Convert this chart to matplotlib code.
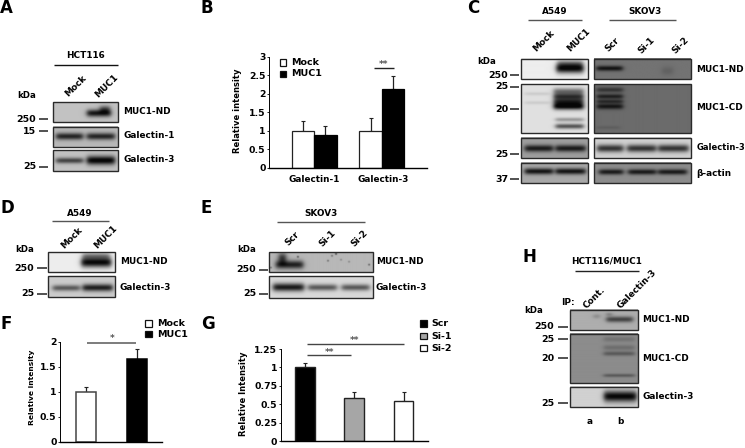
import numpy as np
import matplotlib
matplotlib.use('Agg')
import matplotlib.pyplot as plt
from matplotlib.patches import Rectangle

W, H = 745, 448
plt.rcParams['font.family'] = 'DejaVu Sans'
plt.rcParams['font.weight'] = 'bold'

# bar chart values
b_groups = ['Galectin-1', 'Galectin-3']
b_mock = [1.0, 1.0]
b_muc1 = [0.88, 2.13]
b_mock_err = [0.25, 0.33]
b_muc1_err = [0.25, 0.34]

f_values = [1.0, 1.65]
f_err = [0.10, 0.20]

g_values = [1.0, 0.58, 0.55]
g_err = [0.06, 0.09, 0.12]

b_ticks = [0, 0.5, 1, 1.5, 2, 2.5, 3]
b_ticklabels = ['0', '0.5', '1', '1.5', '2', '2.5', '3']
f_ticks = [0, 0.5, 1, 1.5, 2]
f_ticklabels = ['0', '0.5', '1', '1.5', '2']
g_ticks = [0, 0.25, 0.5, 0.75, 1, 1.25]
g_ticklabels = ['0', '0.25', '0.5', '0.75', '1', '1.25']

fig = plt.figure(figsize=(W / 100, H / 100), dpi=100)
over = fig.add_axes([0, 0, 1, 1], zorder=5)
over.set_xlim(0, W)
over.set_ylim(H, 0)
over.axis('off')
over.patch.set_alpha(0)
over.set_autoscale_on(False)


def txt(x, y, s, size=6.4, ha='left', rot=0, color='#000000', **kw):
    over.text(x, y, s, fontsize=size, ha=ha, va='center', rotation=rot,
              rotation_mode='anchor' if rot == 0 else 'default', color=color, **kw)


def line(x0, x1, y, color='#222222', lw=1.0):
    over.plot([x0, x1], [y, y], color=color, lw=lw, solid_capstyle='butt')


def blot(x0, y0, x1, y1, bg, bands=(), specks=()):
    # one gel panel, bands are (x0, x1, y centre, y sigma, darkness) in pixels
    nx, ny = int((x1 - x0) * 3), int((y1 - y0) * 3)
    xs = np.linspace(x0, x1, nx)
    ys = np.linspace(y0, y1, ny)
    xx, yy = np.meshgrid(xs, ys)
    img = np.full(xx.shape, bg, dtype=float)
    for bx0, bx1, yc, sig, dark in bands:
        fx = 1 / (1 + np.exp((bx0 - xx) / 1.4)) * 1 / (1 + np.exp((xx - bx1) / 1.4))
        fy = np.exp(-0.5 * ((yy - yc) / (sig * 1.2)) ** 2)
        img -= dark * fx * fy
    for sx, sy, dark in specks:
        img -= dark * np.exp(-0.5 * ((xx - sx) ** 2 + (yy - sy) ** 2) / 0.7 ** 2)
    over.imshow(np.clip(img, 0.03, 1), extent=[x0, x1, y1, y0], cmap='gray', vmin=0, vmax=1,
                aspect='auto', interpolation='bilinear', zorder=1)
    over.add_patch(Rectangle((x0, y0), x1 - x0, y1 - y0, fill=False, ec='#2a2a2a', lw=1.0, zorder=2))


def marker(label, y, x_right, t0, t1):
    txt(x_right, y, label, size=6.8, ha='right')
    line(t0, t1, y, lw=1.1)


def bars(x0, x1, ybot, ytop, ymax, xlim, ticks, ticklabels, size=6.7):
    ax = fig.add_axes([x0 / W, 1 - ybot / H, (x1 - x0) / W, (ybot - ytop) / H], zorder=3)
    ax.set_xlim(*xlim)
    ax.set_ylim(0, ymax)
    ax.spines['top'].set_visible(False)
    ax.spines['right'].set_visible(False)
    ax.spines['left'].set_linewidth(0.7)
    ax.spines['bottom'].set_linewidth(1.0)
    ax.set_yticks(ticks)
    ax.set_yticklabels(ticklabels, fontsize=size, color='#000000')
    ax.tick_params(axis='y', length=1.5, width=0.6, pad=1)
    ax.set_xticks([])
    ax.patch.set_alpha(0)
    return ax


def ebar(ax, x, y, err):
    ax.errorbar(x, y, yerr=[[0], [err]], color='#222222', elinewidth=0.9, capsize=1.2,
                capthick=0.8, zorder=1)


def legend(x, ys, names, colors, tx):
    for y, name, c in zip(ys, names, colors):
        over.add_patch(Rectangle((x - 3.2, y - 3.2), 6.4, 6.4, fc=c, ec='#111111', lw=0.9))
        txt(tx, y, name, size=6.8)


# panel letters
for letter, x, y in [('A', 0, 8), ('B', 201, 8), ('C', 467, 8), ('D', 0, 208),
                     ('E', 201, 208), ('F', 0, 324), ('G', 201, 324), ('H', 522, 257)]:
    txt(x, y, letter, size=12, color='black')

# A
txt(85.7, 55, 'HCT116', ha='center')
line(54, 117.7, 65.3, color='#111111')
txt(76, 86, 'Mock', ha='center', rot=45)
txt(107, 86, 'MUC1', ha='center', rot=45)
txt(27, 96, 'kDa', ha='center', size=6.2)
blot(53, 102.3, 118, 122.3, 0.76, [(87, 111, 113.5, 2.2, 0.68), (100, 110, 109, 2.0, 0.4)])
blot(53, 126.7, 118, 147, 0.72, [(56, 83, 136.7, 2.0, 0.58), (87, 115, 136.7, 2.0, 0.58)])
blot(53, 150.3, 118, 171, 0.76, [(56, 83, 160.7, 1.7, 0.5), (87, 115, 160.5, 2.6, 0.76)])
marker('250', 119, 36, 39, 48)
marker('15', 131, 36, 39, 48)
marker('25', 166.7, 36, 39, 48)
for label, y in [('MUC1-ND', 111.7), ('Galectin-1', 136), ('Galectin-3', 160)]:
    txt(123.3, y, label)

# C
txt(555, 11.7, 'A549', ha='center')
line(528.3, 581.7, 20, color='#555555')
txt(645, 11.7, 'SKOV3', ha='center')
line(609.3, 676, 20, color='#555555')
for label, x, y in [('Mock', 544, 41), ('MUC1', 579, 40), ('Scr', 612.7, 45),
                    ('Si-1', 646.7, 45), ('Si-2', 680.7, 45)]:
    txt(x, y, label, ha='center', rot=45)
txt(486.7, 61.7, 'kDa', ha='center', size=6.2)
blot(521.3, 59, 588.3, 79.3, 0.93, [(556.7, 584, 69, 2.8, 0.9), (558, 583, 64, 2, 0.3)])
blot(594.3, 59, 690.7, 79.3, 0.45, [(596.7, 622.7, 69, 1.5, 0.38), (662, 673, 71.5, 2.5, 0.07)])
blot(521.3, 84.3, 588.3, 133.3, 0.88,
     [(554, 584, 91.7, 2, 0.45), (554, 584, 96.7, 1.8, 0.6), (554, 584, 101.7, 2, 0.65),
      (554, 584, 106.7, 2, 0.85), (556, 584, 120, 1.2, 0.28), (556, 584, 126.7, 1.5, 0.55),
      (525, 550, 94, 1, 0.08), (525, 550, 103, 1, 0.08)])
blot(594.3, 84.3, 690.7, 133.3, 0.42,
     [(597, 623, 90, 1.5, 0.22), (597, 623, 96.7, 1.5, 0.3), (597, 623, 101.7, 1.2, 0.25),
      (597, 623, 106.7, 1.7, 0.34), (597, 620, 128, 1.0, 0.05)])
blot(521.3, 138, 588.3, 158.3, 0.62, [(525, 553.3, 149, 2, 0.52), (556, 586, 149, 2, 0.52)])
blot(594.3, 138, 690.7, 158.3, 0.82,
     [(597.3, 623.3, 149, 2.2, 0.62), (627.3, 656, 149, 2.2, 0.62), (658.3, 688.3, 149, 2.2, 0.62)])
blot(521.3, 162.7, 588.3, 183, 0.66, [(525, 553.3, 171.7, 1.8, 0.58), (556, 586, 171.7, 1.8, 0.58)])
blot(594.3, 162.7, 690.7, 183, 0.55,
     [(599.3, 623.3, 172.3, 1.6, 0.45), (628.3, 656, 172.3, 1.6, 0.45), (658.3, 686.7, 172.3, 1.6, 0.45)])
marker('250', 75.3, 508, 510, 519)
marker('25', 86.7, 508, 510, 519)
marker('20', 109, 508, 510, 519)
marker('25', 154.3, 508, 510, 519)
marker('37', 179, 508, 510, 519)
for label, y in [('MUC1-ND', 69), ('MUC1-CD', 107), ('β-actin', 173)]:
    txt(696.3, y, label)
txt(696.3, 148, 'Galectin-3', size=6.0)

# D
txt(80, 213.3, 'A549', ha='center')
line(51.7, 109, 221, color='#555555')
txt(71.7, 238.3, 'Mock', ha='center', rot=45)
txt(106, 236.7, 'MUC1', ha='center', rot=45)
txt(25, 249, 'kDa', ha='center', size=6.2)
blot(48.3, 252.3, 115.3, 272.3, 0.93, [(81.7, 111.7, 262.7, 3, 0.9), (83, 110, 256, 2, 0.35)])
blot(48.3, 276.3, 115.3, 297.3, 0.8, [(53, 80, 288.3, 1.8, 0.45), (83, 113, 288, 2.2, 0.68)])
marker('250', 268.3, 34.3, 37.3, 46.7)
marker('25', 294, 34.3, 37.3, 46.7)
txt(120, 262, 'MUC1-ND')
txt(120, 287.3, 'Galectin-3')

# E
txt(320.7, 213.3, 'SKOV3', ha='center')
line(276.7, 365.3, 221.7, color='#555555')
txt(292.3, 239, 'Scr', ha='center', rot=45)
txt(327.3, 238, 'Si-1', ha='center', rot=45)
txt(360, 238, 'Si-2', ha='center', rot=45)
txt(246.7, 249, 'kDa', ha='center', size=6.2)
blot(269.3, 252.3, 372.7, 272.3, 0.72, [(276, 303.3, 265, 2.5, 0.6), (279, 286, 258, 3, 0.55)],
     [(336, 254, 0.5), (332, 256, 0.3), (328, 261, 0.3), (298, 257, 0.4), (369, 265, 0.35),
      (271, 268, 0.3), (341, 260, 0.2), (349, 262, 0.2)])
blot(269.3, 276.3, 372.7, 297.8, 0.85,
     [(273.3, 304, 287.3, 2.4, 0.75), (308.3, 336.7, 287.5, 1.9, 0.5), (341.7, 369.3, 287.5, 1.9, 0.5)])
marker('250', 270, 256, 259, 268.3)
marker('25', 294, 256, 259, 268.3)
txt(376, 262, 'MUC1-ND')
txt(376, 287, 'Galectin-3')

# H
txt(606.7, 260.7, 'HCT116/MUC1', ha='center')
line(575, 639, 270.7, color='#222222')
txt(567.7, 302.3, 'IP:', ha='center')
txt(594, 297.3, 'Cont.', ha='center', rot=45)
txt(637.3, 289, 'Galectin-3', ha='center', rot=45)
txt(534, 310.7, 'kDa', ha='center', size=6.2)
blot(570.3, 310, 638.3, 330.3, 0.68,
     [(606.7, 633.3, 320, 1.7, 0.42), (594, 600, 317, 1.3, 0.15), (607, 612, 315, 1, 0.2)])
blot(570.3, 334, 638.3, 383.3, 0.55,
     [(604, 635, 340, 1.6, 0.1), (604, 635, 348.3, 1.6, 0.12), (604, 635, 354.3, 1.3, 0.2),
      (604, 635, 376, 1, 0.2)])
blot(570.3, 387, 638.3, 407.3, 0.82, [(604.3, 637, 397, 3.2, 0.8)])
for label, y in [('250', 326.7), ('25', 339), ('20', 358.3), ('25', 403.3)]:
    marker(label, y, 554.3, 558.3, 567.7)
for label, y in [('MUC1-ND', 319.7), ('MUC1-CD', 358.7), ('Galectin-3', 396.3)]:
    txt(642.3, y, label)
txt(590, 421, 'a', ha='center')
txt(620.7, 421, 'b', ha='center')

# B
ax_b = bars(269, 427, 167.7, 56.7, 3, (-0.667, 1.664), b_ticks, b_ticklabels)
x_b = np.arange(len(b_groups))
ax_b.bar(x_b - 0.166, b_mock, 0.332, color='white', edgecolor='#222222', lw=0.9, zorder=2)
ax_b.bar(x_b + 0.166, b_muc1, 0.332, color='black', edgecolor='black', lw=0.9, zorder=2)
for i in x_b:
    ebar(ax_b, i - 0.166, b_mock[i], b_mock_err[i])
    ebar(ax_b, i + 0.166, b_muc1[i], b_muc1_err[i])
txt(237.7, 111, 'Relative intensity', size=6.0, ha='center', rot=90)
txt(314, 180, b_groups[0], ha='center', size=6.4)
txt(383.3, 180, b_groups[1], ha='center', size=6.4)
legend(282.7, [62.7, 74], ['Mock', 'MUC1'], ['white', 'black'], 291)
line(373.7, 394, 67.7)
txt(384, 64, '**', ha='center', size=6.5, color='#555555')

# F
ax_f = bars(60, 162, 441.7, 341.7, 2, (-0.51, 1.496), f_ticks, f_ticklabels)
ax_f.bar([0], f_values[:1], 0.40, color='white', edgecolor='#444444', lw=1.1, zorder=2)
ax_f.bar([1], f_values[1:], 0.40, color='black', edgecolor='black', lw=1.1, zorder=2)
for i in range(2):
    ebar(ax_f, i, f_values[i], f_err[i])
txt(31.7, 387.7, 'Relative intensity', size=5.4, ha='center', rot=90)
legend(148.3, [323.7, 334.3], ['Mock', 'MUC1'], ['white', 'black'], 156.7)
line(87.3, 136, 343.3, color='#666666', lw=1.2)
txt(111.7, 339, '*', ha='center', size=6.5, color='#555555')

# G
ax_g = bars(280.7, 428, 441, 349, 1.25, (-0.488, 2.494), g_ticks, g_ticklabels)
g_colors = ['black', '#a6a6a6', 'white']
for i in range(3):
    ax_g.bar([i], [g_values[i]], 0.40, color=g_colors[i], edgecolor='#222222', lw=1.0, zorder=2)
    ebar(ax_g, i, g_values[i], g_err[i])
txt(243.3, 393.3, 'Relative Intensity', size=6.0, ha='center', rot=90)
legend(423.3, [323.7, 336.3, 348.3], ['Scr', 'Si-1', 'Si-2'], g_colors, 431.7)
line(306.7, 404.3, 344.3, color='#444444')
line(306.7, 351, 355.3, color='#444444')
txt(355, 340, '**', ha='center', size=6.5, color='#555555')
txt(330, 352, '**', ha='center', size=6.5, color='#555555')

over.set_xlim(0, W)
over.set_ylim(H, 0)
fig.savefig('out.png', dpi=100)
